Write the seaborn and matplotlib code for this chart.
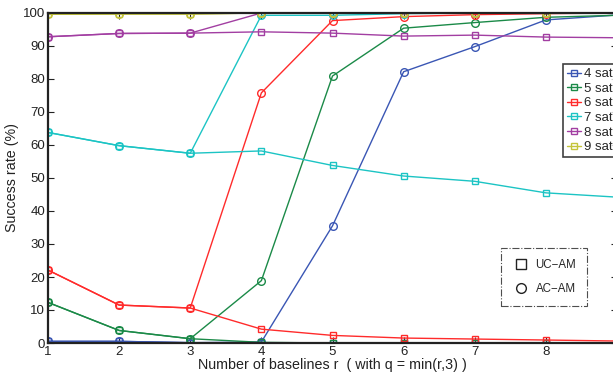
import matplotlib
matplotlib.use("Agg")
import matplotlib.pyplot as plt
from matplotlib.lines import Line2D
import pandas as pd
import seaborn as sns

# Number of baselines r
baselines = [1, 2, 3, 4, 5, 6, 7, 8, 9]
sat_labels = ["4 sat", "5 sat", "6 sat", "7 sat", "8 sat", "9 sat"]

# Success rate (%) with the unconstrained ambiguity model (UC-AM)
uc_4 = [0.5, 0.5, 0.1, 0.0, 0.0, 0.0, 0.0, 0.0, 0.0]
uc_5 = [12.3, 3.8, 1.3, 0.2, 0.0, 0.0, 0.0, 0.0, 0.0]
uc_6 = [22.1, 11.5, 10.6, 4.2, 2.3, 1.5, 1.2, 0.9, 0.6]
uc_7 = [63.8, 59.8, 57.5, 58.2, 53.8, 50.6, 49.0, 45.5, 44.2]
uc_8 = [92.8, 93.8, 93.9, 94.3, 93.9, 93.0, 93.3, 92.7, 92.5]
uc_9 = [99.6, 99.7, 99.7, 100.0, 100.0, 100.0, 100.0, 100.0, 100.0]

# Success rate (%) with the attitude-constrained ambiguity model (AC-AM)
ac_4 = [0.5, 0.5, 0.1, 0.3, 35.5, 82.2, 89.8, 97.9, 99.4]
ac_5 = [12.3, 3.8, 1.3, 18.9, 80.9, 95.4, 97.1, 98.7, 99.3]
ac_6 = [22.1, 11.5, 10.6, 75.8, 97.7, 98.9, 99.5, 99.8, 100.0]
ac_7 = [63.8, 59.8, 57.5, 99.3, 99.3, 99.8, 100.0, 100.0, 100.0]
ac_8 = [92.8, 93.8, 93.9, 100.0, 100.0, 100.0, 100.0, 100.0, 100.0]
ac_9 = [99.6, 99.7, 99.7, 100.0, 100.0, 100.0, 100.0, 100.0, 100.0]

uc_series = [uc_4, uc_5, uc_6, uc_7, uc_8, uc_9]
ac_series = [ac_4, ac_5, ac_6, ac_7, ac_8, ac_9]
colors = ["#3a56b4", "#1b8a48", "#ff2b2b", "#1cc4c4", "#a23ea2", "#c4c43a"]

sns.set_theme(style="white")
plt.rcParams["font.family"] = ["Liberation Sans", "DejaVu Sans"]

fig = plt.figure(figsize=(6.13, 3.73), dpi=100)
ax = fig.add_axes([48 / 613, 1 - 343 / 373, (617 - 48) / 613, (343 - 13) / 373])

for label, uc, ac, col in zip(sat_labels, uc_series, ac_series, colors):
    df_uc = pd.DataFrame({"r": baselines, "rate": uc})
    df_ac = pd.DataFrame({"r": baselines, "rate": ac})
    sns.lineplot(data=df_uc, x="r", y="rate", ax=ax, color=col, lw=1.0,
                 marker="s", markersize=5, markerfacecolor="none",
                 markeredgecolor=col, markeredgewidth=1.0)
    sns.lineplot(data=df_ac, x="r", y="rate", ax=ax, color=col, lw=1.0,
                 marker="o", markersize=5.5, markerfacecolor="none",
                 markeredgecolor=col, markeredgewidth=1.0)

ax.set_xlim(1, 9)
ax.set_ylim(0, 100)
ax.set_xticks(baselines)
ax.set_xticklabels([str(b) if b < 9 else "" for b in baselines])
ax.set_yticks(range(0, 101, 10))
ax.tick_params(direction="in", length=4, width=0.8, colors="#222222",
               labelsize=9.5, top=True, right=True, bottom=True, left=True,
               pad=2)
for side in ["left", "bottom", "top", "right"]:
    ax.spines[side].set_color("#222222")
    ax.spines[side].set_linewidth(1.6)
ax.set_xlabel("Number of baselines r  ( with q = min(r,3) )", fontsize=10.3,
              labelpad=0, color="#222222")
ax.set_ylabel("Success rate (%)", fontsize=10.3, labelpad=3, color="#222222")

# Satellite-count legend
sat_handles = [Line2D([0], [0], color=c, lw=1.0, marker="s", markersize=4.5,
                      markerfacecolor="none", markeredgecolor=c)
               for c in colors]
leg1 = fig.legend(sat_handles, sat_labels, loc="upper left",
                  bbox_to_anchor=(563 / 613, 1 - 64 / 373),
                  bbox_transform=fig.transFigure, fontsize=9.5,
                  frameon=True, fancybox=False, handlelength=1.1,
                  handletextpad=0.2, labelspacing=0.18, borderpad=0.3,
                  borderaxespad=0)
leg1.get_frame().set_edgecolor("#111111")
leg1.get_frame().set_linewidth(1.2)

# Ambiguity-model legend
model_handles = [
    Line2D([0], [0], ls="none", marker="s", markersize=7,
           markerfacecolor="none", markeredgecolor="#222222"),
    Line2D([0], [0], ls="none", marker="o", markersize=7,
           markerfacecolor="none", markeredgecolor="#222222"),
]
leg2 = ax.legend(model_handles, ["UC\u2212AM", "AC\u2212AM"], loc="upper left",
                 bbox_to_anchor=(501 / 613, 1 - 248 / 373),
                 bbox_transform=fig.transFigure, fontsize=8.3,
                 frameon=True, fancybox=False, handlelength=1.6,
                 handletextpad=0.45, labelspacing=1.05, borderpad=0.95,
                 borderaxespad=0)
leg2.get_frame().set_edgecolor("#222222")
leg2.get_frame().set_linestyle("-.")
leg2.get_frame().set_linewidth(0.8)

fig.savefig("out.png", dpi=100)
